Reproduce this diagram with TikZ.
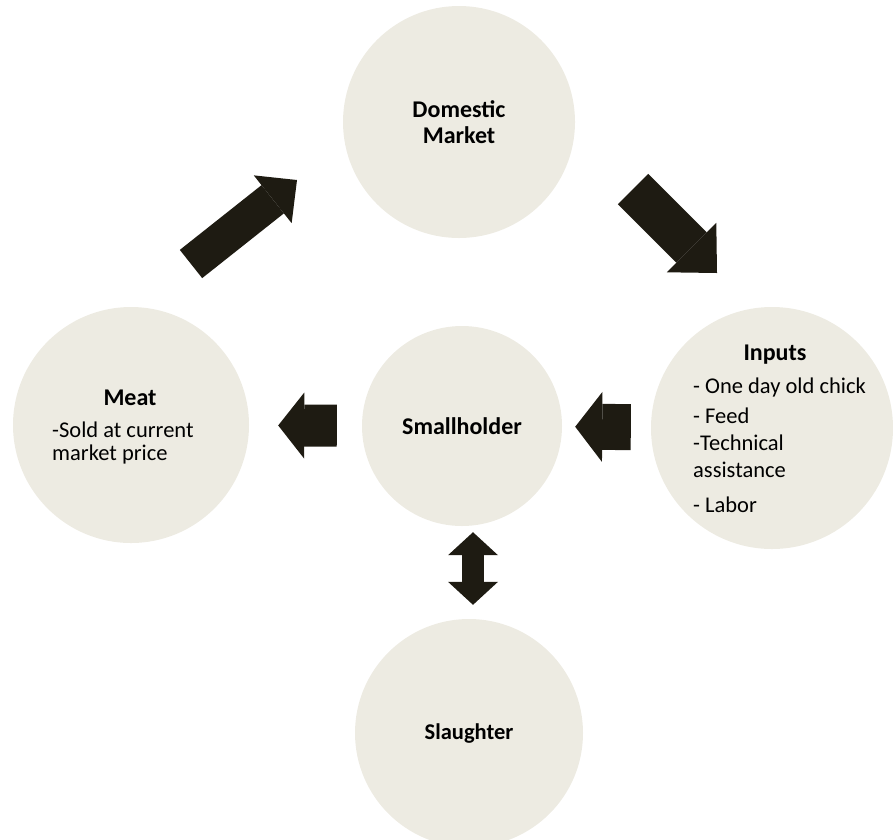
\documentclass[tikz,border=0pt]{standalone}
\usepackage{fontspec}
\setmainfont{Carlito}
\usetikzlibrary{arrows.meta}
\definecolor{bubble}{RGB}{237,235,226}
\definecolor{arrowdark}{RGB}{30,27,18}

\begin{document}
\begin{tikzpicture}[x=1pt, y=-1pt,
	every node/.style={font=\fontsize{24}{26}\selectfont\bfseries, inner sep=0pt},
	circ/.style={circle, fill=bubble, minimum size=#1, align=center},
	listtext/.style={font=\fontsize{22.5}{#1}\selectfont, align=left, anchor=west},
	fatarrow/.style={draw=arrowdark, line width=#1}]
	\useasboundingbox (0,0) rectangle (893,839);
	% circles
	\node[circ=232pt] (dom) at (459,122) {Domestic\\Market};
	\node[circ=236pt] (meat) at (131,425) {};
	\node[circ=200pt] (small) at (462,426) {Smallholder};
	\node[circ=242pt] (inputs) at (772,428) {};
	\node[circ=228pt, font=\fontsize{22.5}{26}\selectfont\bfseries] (slau) at (469,733) {Slaughter};
	% texts
	\node (meathead) at (130,398) {Meat};
	\node[listtext=23pt] (meatlist) at (52,443) {-Sold at current\\market price};
	\node (inhead) at (775,355) {Inputs};
	\node[listtext=27pt] (inlist) at (693,445) {- One day old chick\\[3pt]- Feed\\-Technical\\assistance\\[8pt]- Labor};
	% arrows
	\coordinate (upstart) at (191,264);
	\coordinate (upend) at (297,180);
	\coordinate (downstart) at (633,189);
	\coordinate (downend) at (717,273);
	\draw[fatarrow=36pt, -{Triangle[length=31pt, width=61pt, line width=0pt]}] (upstart) -- (upend);
	\draw[fatarrow=43pt, -{Triangle[length=36pt, width=70pt, line width=0pt]}] (downstart) -- (downend);
	\draw[fatarrow=42pt, -{Triangle[length=26pt, width=66pt, line width=0pt]}, shorten <=25pt, shorten >=29pt] (small) -- (meat);
	\draw[fatarrow=46pt, -{Triangle[length=27pt, width=70pt, line width=0pt]}, shorten <=20pt, shorten >=13pt] (inputs) -- (small);
	\draw[fatarrow=22pt, {Triangle[length=23pt, width=50pt, line width=0pt]}-{Triangle[length=23pt, width=50pt, line width=0pt]}, shorten <=6pt, shorten >=14pt] ([xshift=11pt]small.south) -- ([xshift=11pt]small.south |- slau.north);
\end{tikzpicture}
\end{document}
